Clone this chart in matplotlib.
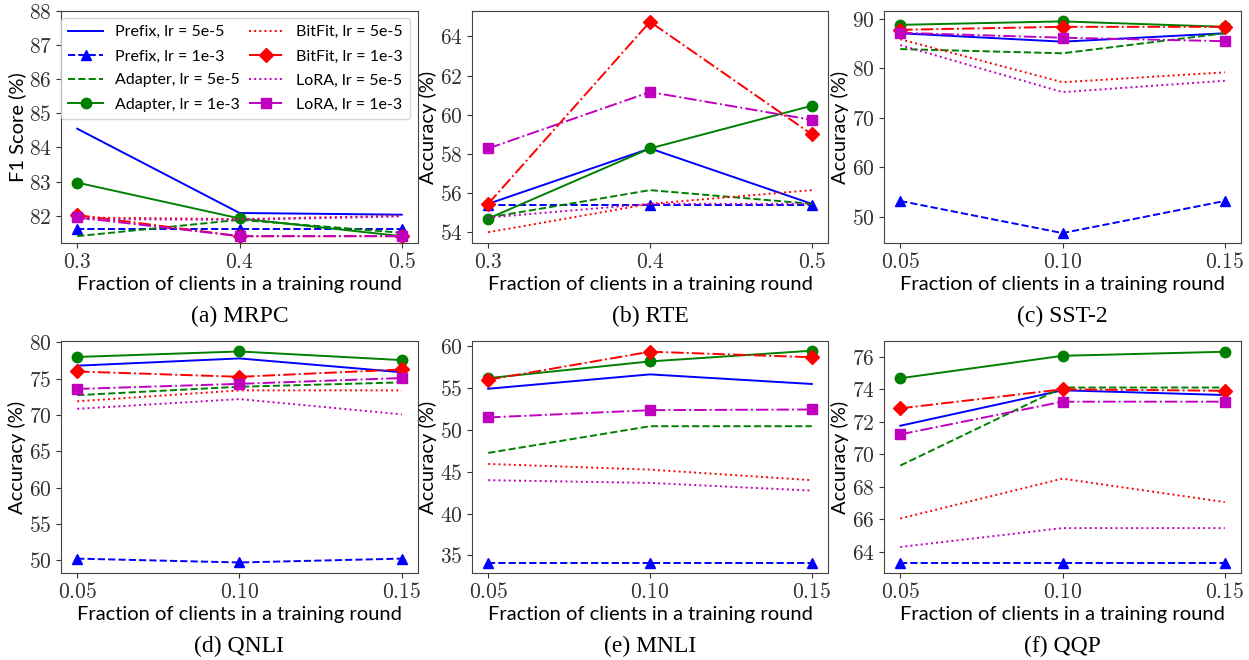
import matplotlib
matplotlib.use("Agg")
import matplotlib.pyplot as plt

plt.rcParams['mathtext.fontset'] = 'cm'

series_labels = ["Prefix, lr = 5e-5", "Prefix, lr = 1e-3",
                 "Adapter, lr = 5e-5", "Adapter, lr = 1e-3",
                 "BitFit, lr = 5e-5", "BitFit, lr = 1e-3",
                 "LoRA, lr = 5e-5", "LoRA, lr = 1e-3"]

x_small = [0.3, 0.4, 0.5]
x_large = [0.05, 0.10, 0.15]

mrpc = [[84.55, 82.08, 82.03], [81.62, 81.62, 81.62],
        [81.40, 81.88, 81.50], [82.97, 81.92, 81.40],
        [81.95, 81.90, 82.00], [82.02, 81.40, 81.40],
        [81.90, 81.88, 81.98], [81.95, 81.40, 81.40]]
rte = [[55.45, 58.28, 55.45], [55.40, 55.40, 55.40],
       [54.75, 56.15, 55.45], [54.70, 58.28, 60.46],
       [54.00, 55.45, 56.15], [55.45, 64.75, 59.00],
       [54.75, 55.45, 55.45], [58.28, 61.16, 59.74]]
sst2 = [[87.1, 85.4, 87.1], [53.2, 46.7, 53.2],
        [83.9, 83.05, 87.1], [88.8, 89.5, 88.4],
        [85.9, 77.2, 79.2], [87.8, 88.4, 88.4],
        [84.7, 75.2, 77.5], [87.2, 86.2, 85.5]]
qnli = [[76.8, 77.8, 75.9], [50.23, 49.7, 50.23],
        [72.74, 73.9, 74.5], [78.0, 78.76, 77.57],
        [71.9, 73.4, 73.4], [76.0, 75.27, 76.28],
        [70.86, 72.2, 70.1], [73.6, 74.3, 75.1]]
mnli = [[54.93, 56.65, 55.5], [34.1, 34.1, 34.1],
        [47.26, 50.45, 50.45], [56.2, 58.2, 59.48],
        [45.94, 45.26, 44.0], [56.0, 59.36, 58.7],
        [44.0, 43.67, 42.75], [51.5, 52.37, 52.45]]
qqp = [[71.75, 73.93, 73.64], [63.34, 63.34, 63.34],
       [69.3, 74.1, 74.1], [74.67, 76.05, 76.3],
       [66.05, 68.5, 67.06], [72.82, 73.99, 73.9],
       [64.3, 65.46, 65.46], [71.22, 73.23, 73.23]]

panels = [
    ("(a) MRPC", "F1 Score (%)", x_small, mrpc, (81.2, 88.0), [82, 83, 84, 85, 86, 87, 88], ["0.3", "0.4", "0.5"]),
    ("(b) RTE", "Accuracy (%)", x_small, rte, (53.45, 65.3), [54, 56, 58, 60, 62, 64], ["0.3", "0.4", "0.5"]),
    ("(c) SST-2", "Accuracy (%)", x_large, sst2, (44.7, 91.6), [50, 60, 70, 80, 90], ["0.05", "0.10", "0.15"]),
    ("(d) QNLI", "Accuracy (%)", x_large, qnli, (48.25, 80.2), [50, 55, 60, 65, 70, 75, 80], ["0.05", "0.10", "0.15"]),
    ("(e) MNLI", "Accuracy (%)", x_large, mnli, (32.9, 60.64), [35, 40, 45, 50, 55, 60], ["0.05", "0.10", "0.15"]),
    ("(f) QQP", "Accuracy (%)", x_large, qqp, (62.7, 76.96), [64, 66, 68, 70, 72, 74, 76], ["0.05", "0.10", "0.15"]),
]

styles = [
    dict(color='blue', ls='-', marker=None),
    dict(color='blue', ls='--', marker='^'),
    dict(color='green', ls='--', marker=None),
    dict(color='green', ls='-', marker='o'),
    dict(color='red', ls=':', marker=None),
    dict(color='red', ls='-.', marker='D'),
    dict(color='m', ls=':', marker=None),
    dict(color='m', ls='-.', marker='s'),
]

SANS = 'Lato'
W, H = 1249, 660
fig = plt.figure(figsize=(W / 100, H / 100), dpi=100)
cols = [(61, 418), (472, 828), (884, 1241)]
rows = [(11, 243), (341, 573)]

for i, (cap, ylab, xs, data, ylim, yticks, xtl) in enumerate(panels):
    r, c = divmod(i, 3)
    x0, x1 = cols[c]
    y0, y1 = rows[r]
    ax = fig.add_axes([x0 / W, 1 - y1 / H, (x1 - x0) / W, (y1 - y0) / H])
    for vals, st, lab in zip(data, styles, series_labels):
        ax.plot(xs, vals, color=st['color'], ls=st['ls'], marker=st['marker'],
                markersize=7.5, lw=1.4, label=lab)
    ax.set_ylim(*ylim)
    pad = (xs[-1] - xs[0]) * 0.05
    ax.set_xlim(xs[0] - pad, xs[-1] + pad)
    ax.set_xticks(xs)
    ax.set_xticklabels(["$" + t + "$" for t in xtl])
    ax.set_yticks(yticks)
    ax.set_yticklabels(["$%d$" % v for v in yticks])
    ax.tick_params(labelsize=15.5, colors='#333333', labelcolor='#333333', pad=3)
    ax.set_ylabel(ylab, fontsize=14.5, family=SANS, labelpad=2)
    ax.set_xlabel("Fraction of clients in a training round", fontsize=14.5, family=SANS, labelpad=3)
    for sp in ax.spines.values():
        sp.set_color('#444444')
    ax.text(0.5, -0.27, cap, transform=ax.transAxes, ha='center', va='top',
            fontsize=17, family='Liberation Serif')
    if i == 0:
        ax.legend(ncol=2, loc='upper left', bbox_to_anchor=(0.0, 0.97),
                  borderaxespad=0.0,
                  prop={'family': SANS, 'size': 11.5}, handlelength=2.2, columnspacing=0.55,
                  borderpad=0.45, labelspacing=0.62, handletextpad=0.75,
                  framealpha=0.8)

fig.savefig("out.png", dpi=100)
